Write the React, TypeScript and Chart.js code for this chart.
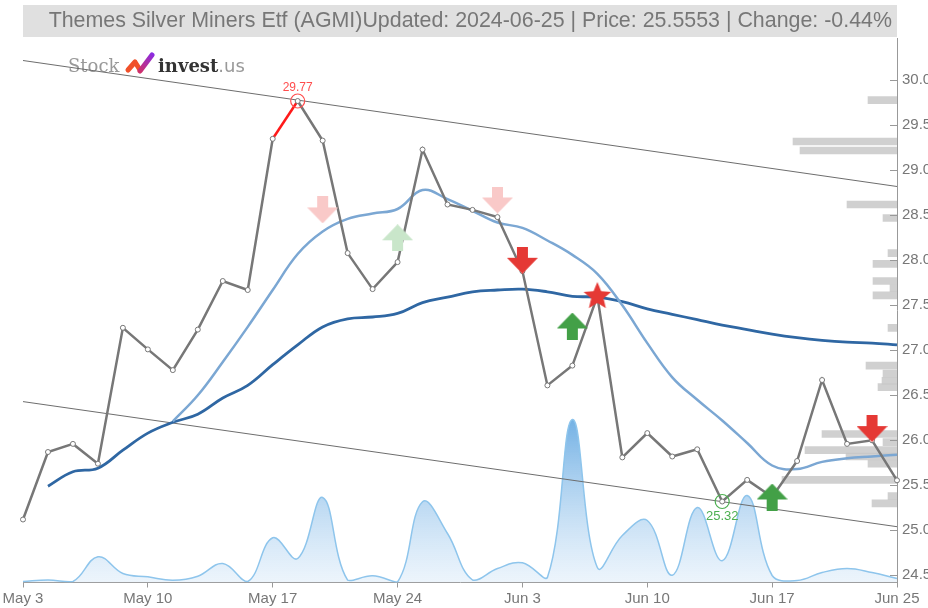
import React, { useEffect, useRef } from 'react';
import { Chart, registerables } from 'chart.js';

Chart.register(...registerables);

const title = 'Themes Silver Miners Etf (AGMI)Updated: 2024-06-25 | Price: 25.5553 | Change: -0.44%';

const dates = [
  'May 3', 'May 6', 'May 7', 'May 8', 'May 9', 'May 10', 'May 13', 'May 14', 'May 15', 'May 16',
  'May 17', 'May 20', 'May 21', 'May 22', 'May 23', 'May 24', 'May 28', 'May 29', 'May 30', 'May 31',
  'Jun 3', 'Jun 4', 'Jun 5', 'Jun 6', 'Jun 7', 'Jun 10', 'Jun 11', 'Jun 12', 'Jun 13', 'Jun 14',
  'Jun 17', 'Jun 18', 'Jun 20', 'Jun 21', 'Jun 24', 'Jun 25',
];

const tickLabels = ['May 3', 'May 10', 'May 17', 'May 24', 'Jun 3', 'Jun 10', 'Jun 17', 'Jun 25'];

const prices = [
  25.12, 25.87, 25.96, 25.74, 27.25, 27.01, 26.78, 27.23, 27.77, 27.67,
  29.35, 29.77, 29.33, 28.08, 27.68, 27.98, 29.23, 28.62, 28.56, 28.48,
  27.88, 26.61, 26.83, 27.6, 25.81, 26.08, 25.82, 25.9, 25.32, 25.56,
  25.37, 25.77, 26.67, 25.96, 26.0, 25.5553,
];

const maLong = [
  null, 25.49, 25.65, 25.69, 25.89, 26.08, 26.2, 26.29, 26.47, 26.61,
  26.84, 27.06, 27.26, 27.35, 27.37, 27.41, 27.53, 27.59, 27.65, 27.67,
  27.68, 27.65, 27.6, 27.59, 27.54, 27.46, 27.4, 27.34, 27.28, 27.23,
  27.18, 27.14, 27.11, 27.09, 27.08, 27.06,
];

const maShort = [
  null, null, null, null, null, null, 26.21, 26.5, 26.87, 27.26,
  27.67, 28.07, 28.32, 28.46, 28.52, 28.57, 28.78, 28.68, 28.55, 28.42,
  28.36, 28.22, 28.06, 27.85, 27.5, 27.08, 26.7, 26.45, 26.22, 25.97,
  25.72, 25.68, 25.76, 25.8, 25.82, 25.84,
];

const volumes = [
  1000, 2500, 1000, 25700, 9000, 5700, 2300, 6300, 19000, 1000,
  44700, 24000, 85000, 2300, 6700, 500, 80700, 49000, 2500, 14000,
  19700, 5000, 163000, 15000, 47000, 62000, 7300, 75000, 21700, 87000,
  7000, 2000, 10000, 14000, 10000, 4000,
];

const upperTrend = [30.22, 28.82];
const lowerTrend = [26.43, 25.04];

const profilePrices = [
  29.78, 29.32, 29.22, 28.62, 28.47, 28.08, 27.96, 27.77, 27.69, 27.61,
  27.25, 26.83, 26.74, 26.66, 26.59, 26.07, 25.98, 25.89, 25.82, 25.74,
  25.56, 25.38, 25.3,
];
const profileVolumes = [
  29, 104, 97, 50, 14, 9, 24, 24, 7, 24,
  9, 31, 14, 15, 19, 75, 14, 92, 51, 29,
  115, 9, 25,
];

const paleSellSignals = [{ x: 'May 21', y: 28.56 }, { x: 'May 31', y: 28.67 }];
const paleBuySignals = [{ x: 'May 24', y: 28.25 }];
const sellSignals = [{ x: 'Jun 3', y: 28.0 }, { x: 'Jun 24', y: 26.13 }];
const buySignals = [{ x: 'Jun 5', y: 27.27 }, { x: 'Jun 17', y: 25.37 }];
const starSignals = [{ x: 'Jun 6', y: 27.61 }];

const highPoint = { date: 'May 20', price: 29.77 };
const lowPoint = { date: 'Jun 13', price: 25.32 };

const FONT = "'Liberation Sans', Arial, sans-serif";

function makeArrow(color: string, up: boolean) {
  const c = document.createElement('canvas');
  c.width = 31;
  c.height = 27;
  const g = c.getContext('2d')!;
  g.fillStyle = color;
  g.beginPath();
  if (up) {
    g.moveTo(15.5, 0); g.lineTo(31, 16); g.lineTo(21, 16); g.lineTo(21, 27);
    g.lineTo(10, 27); g.lineTo(10, 16); g.lineTo(0, 16);
  } else {
    g.moveTo(10, 0); g.lineTo(21, 0); g.lineTo(21, 11); g.lineTo(31, 11);
    g.lineTo(15.5, 27); g.lineTo(0, 11); g.lineTo(10, 11);
  }
  g.closePath();
  g.fill();
  return c;
}

function makeStar(color: string) {
  const c = document.createElement('canvas');
  c.width = 30;
  c.height = 29;
  const g = c.getContext('2d')!;
  g.fillStyle = color;
  g.beginPath();
  const cx = 15, cy = 15.5, R = 14.5, r = 6.5;
  for (let i = 0; i < 10; i++) {
    const a = -Math.PI / 2 + (i * Math.PI) / 5;
    const rad = i % 2 === 0 ? R : r;
    const px = cx + rad * Math.cos(a);
    const py = cy + rad * Math.sin(a);
    if (i === 0) g.moveTo(px, py); else g.lineTo(px, py);
  }
  g.closePath();
  g.fill();
  return c;
}

const titlePlugin = {
  id: 'titleBox',
  beforeDraw(chart: any) {
    const { ctx, chartArea } = chart;
    ctx.save();
    ctx.fillStyle = '#e0e0e0';
    ctx.fillRect(chartArea.left, 5, chartArea.right - chartArea.left, 32);
    ctx.fillStyle = '#777777';
    ctx.font = `21.4px ${FONT}`;
    ctx.textAlign = 'right';
    ctx.textBaseline = 'middle';
    ctx.fillText(title, chartArea.right - 5, 21.5);
    ctx.restore();
  },
};

const logoPlugin = {
  id: 'logo',
  beforeDatasetsDraw(chart: any) {
    const { ctx } = chart;
    ctx.save();
    ctx.textBaseline = 'alphabetic';
    ctx.textAlign = 'left';
    ctx.font = `18px 'DejaVu Serif', serif`;
    ctx.fillStyle = '#999999';
    ctx.fillText('Stock', 68, 72);
    ctx.lineCap = 'round';
    ctx.lineJoin = 'round';
    ctx.lineWidth = 5;
    ctx.strokeStyle = '#f0502a';
    ctx.beginPath();
    ctx.moveTo(128, 70);
    ctx.lineTo(135, 62);
    ctx.lineTo(140, 70);
    ctx.stroke();
    const grad = ctx.createLinearGradient(140, 72, 153, 54);
    grad.addColorStop(0, '#d0306a');
    grad.addColorStop(1, '#8a2be2');
    ctx.strokeStyle = grad;
    ctx.beginPath();
    ctx.moveTo(140, 71);
    ctx.lineTo(152, 55);
    ctx.stroke();
    ctx.font = `bold 18px 'DejaVu Serif', serif`;
    ctx.fillStyle = '#333333';
    ctx.fillText('invest', 158, 72);
    const w = ctx.measureText('invest').width;
    ctx.font = `18px 'DejaVu Sans', sans-serif`;
    ctx.fillStyle = '#999999';
    ctx.fillText('.us', 158 + w, 72);
    ctx.restore();
  },
};

const annotationPlugin = {
  id: 'annotations',
  afterDraw(chart: any) {
    const { ctx, scales } = chart;
    const x = scales.x;
    const y = scales.y;
    ctx.save();
    ctx.strokeStyle = '#999999';
    ctx.lineWidth = 1;
    for (const t of y.ticks) {
      const py = Math.round(y.getPixelForValue(t.value)) + 0.5;
      ctx.beginPath();
      ctx.moveTo(y.left - 7, py);
      ctx.lineTo(y.left, py);
      ctx.stroke();
    }
    const hx = x.getPixelForValue(dates.indexOf(highPoint.date));
    const hy = y.getPixelForValue(highPoint.price);
    ctx.strokeStyle = '#ff4d4d';
    ctx.lineWidth = 1.2;
    ctx.beginPath();
    ctx.arc(hx, hy, 7, 0, Math.PI * 2);
    ctx.stroke();
    ctx.fillStyle = '#ff4d4d';
    ctx.font = `12px ${FONT}`;
    ctx.textAlign = 'center';
    ctx.textBaseline = 'bottom';
    ctx.fillText(highPoint.price.toFixed(2), hx, hy - 7);
    const lx = x.getPixelForValue(dates.indexOf(lowPoint.date));
    const ly = y.getPixelForValue(lowPoint.price);
    ctx.strokeStyle = '#4caf50';
    ctx.beginPath();
    ctx.arc(lx, ly, 7, 0, Math.PI * 2);
    ctx.stroke();
    ctx.fillStyle = '#4caf50';
    ctx.font = `13px ${FONT}`;
    ctx.textBaseline = 'top';
    ctx.fillText(lowPoint.price.toFixed(2), lx, ly + 8);
    ctx.restore();
  },
};

export default function App() {
  const canvasRef = useRef<HTMLCanvasElement | null>(null);

  useEffect(() => {
    const canvas = canvasRef.current;
    if (!canvas) return;

    const redArrow = makeArrow('#e53935', false);
    const paleRedArrow = makeArrow('#f9c9c8', false);
    const greenArrow = makeArrow('#43a047', true);
    const paleGreenArrow = makeArrow('#c9e6ca', true);
    const star = makeStar('#e53935');

    const labelIdx = new Set(tickLabels.map((l) => dates.indexOf(l)));
    const VOL_MAX = 544500;

    const chart = new Chart(canvas, {
      type: 'line',
      data: {
        labels: dates,
        datasets: [
          {
            type: 'line',
            label: 'Price',
            data: prices,
            borderColor: '#777777',
            borderWidth: 2.5,
            tension: 0,
            pointRadius: 2.5,
            pointBackgroundColor: '#ffffff',
            pointBorderColor: '#777777',
            pointBorderWidth: 1,
            segment: {
              borderColor: (c: any) => (c.p0DataIndex === 10 ? '#ff1a1a' : undefined),
            },
            order: 2,
          },
          {
            type: 'line',
            label: 'MA short',
            data: maShort,
            borderColor: '#7ba7d3',
            borderWidth: 2.5,
            tension: 0.4,
            pointRadius: 0,
            order: 3,
          },
          {
            type: 'line',
            label: 'MA long',
            data: maLong,
            borderColor: '#2f67a3',
            borderWidth: 2.8,
            tension: 0.4,
            pointRadius: 0,
            order: 3,
          },
          {
            type: 'line',
            label: 'Upper trend',
            data: [
              { x: dates[0], y: upperTrend[0] },
              { x: dates[dates.length - 1], y: upperTrend[1] },
            ],
            borderColor: '#6d6d6d',
            borderWidth: 1,
            pointRadius: 0,
            order: 4,
          },
          {
            type: 'line',
            label: 'Lower trend',
            data: [
              { x: dates[0], y: lowerTrend[0] },
              { x: dates[dates.length - 1], y: lowerTrend[1] },
            ],
            borderColor: '#6d6d6d',
            borderWidth: 1,
            pointRadius: 0,
            order: 4,
          },
          {
            type: 'line',
            label: 'Volume',
            data: volumes,
            yAxisID: 'yv',
            borderColor: '#8ec5ec',
            borderWidth: 1.5,
            tension: 0.4,
            pointRadius: 0,
            fill: 'origin',
            backgroundColor: (c: any) => {
              const ch = c.chart;
              const area = ch.chartArea;
              if (!area) return 'rgba(140,190,235,0.4)';
              const yv = ch.scales.yv;
              const top = yv.getPixelForValue(163000);
              const g = ch.ctx.createLinearGradient(0, top, 0, area.bottom);
              g.addColorStop(0, 'rgba(108,173,227,0.95)');
              g.addColorStop(1, 'rgba(225,238,250,0.6)');
              return g;
            },
            order: 5,
          },
          {
            type: 'bar',
            label: 'Volume profile',
            indexAxis: 'y',
            xAxisID: 'xp',
            yAxisID: 'y',
            data: profilePrices.map((p, i) => ({ x: profileVolumes[i], y: p })),
            backgroundColor: 'rgba(200,200,200,0.85)',
            barThickness: 7,
            grouped: false,
            order: 6,
          } as any,
          {
            type: 'line',
            label: 'Weak sell',
            data: paleSellSignals,
            showLine: false,
            pointStyle: paleRedArrow,
            pointRadius: 10,
            order: 1,
          } as any,
          {
            type: 'line',
            label: 'Weak buy',
            data: paleBuySignals,
            showLine: false,
            pointStyle: paleGreenArrow,
            pointRadius: 10,
            order: 1,
          } as any,
          {
            type: 'line',
            label: 'Sell',
            data: sellSignals,
            showLine: false,
            pointStyle: redArrow,
            pointRadius: 10,
            order: 0,
          } as any,
          {
            type: 'line',
            label: 'Buy',
            data: buySignals,
            showLine: false,
            pointStyle: greenArrow,
            pointRadius: 10,
            order: 0,
          } as any,
          {
            type: 'line',
            label: 'Star',
            data: starSignals,
            showLine: false,
            pointStyle: star,
            pointRadius: 10,
            order: 0,
          } as any,
        ],
      },
      options: {
        responsive: false,
        animation: false,
        events: [],
        layout: { padding: { top: 38, left: 23, right: 0, bottom: 0 } },
        plugins: {
          legend: { display: false },
          title: { display: false },
          tooltip: { enabled: false },
        },
        scales: {
          x: {
            type: 'category',
            axis: 'x',
            offset: false,
            grid: {
              offset: false,
              drawOnChartArea: false,
              drawTicks: true,
              tickLength: 5,
              color: (c: any) => (labelIdx.has(c.index) ? '#999999' : 'rgba(0,0,0,0)'),
            },
            border: { display: true, color: '#999999', width: 1 },
            ticks: {
              autoSkip: false,
              maxRotation: 0,
              minRotation: 0,
              padding: 2,
              color: '#777777',
              font: { family: FONT, size: 15 },
              callback: (_v: any, i: number) => (labelIdx.has(i) ? dates[i] : ''),
            },
            afterFit: (s: any) => {
              s.height = 25.5;
            },
          },
          y: {
            type: 'linear',
            axis: 'y',
            position: 'right',
            min: 24.42,
            max: 30.47,
            offset: false,
            grid: { offset: false, drawOnChartArea: false, drawTicks: false },
            border: { display: true, color: '#999999', width: 1 },
            ticks: {
              stepSize: 0.5,
              includeBounds: false,
              padding: 5,
              color: '#777777',
              font: { family: FONT, size: 15 },
              callback: (v: any) => Number(v).toFixed(1),
            },
            afterFit: (s: any) => {
              s.width = 31;
            },
          },
          yv: {
            type: 'linear',
            axis: 'y',
            display: false,
            min: 0,
            max: VOL_MAX,
          },
          xp: {
            type: 'linear',
            axis: 'x',
            display: false,
            reverse: true,
            min: 0,
            max: 874,
          },
        },
      } as any,
      plugins: [titlePlugin, logoPlugin, annotationPlugin],
    });

    return () => chart.destroy();
  }, []);

  return (
    <div style={{ position: 'absolute', left: 0, top: 0, width: 928, height: 608, background: '#ffffff' }}>
      <canvas ref={canvasRef} width={928} height={608} style={{ display: 'block' }} />
    </div>
  );
}
